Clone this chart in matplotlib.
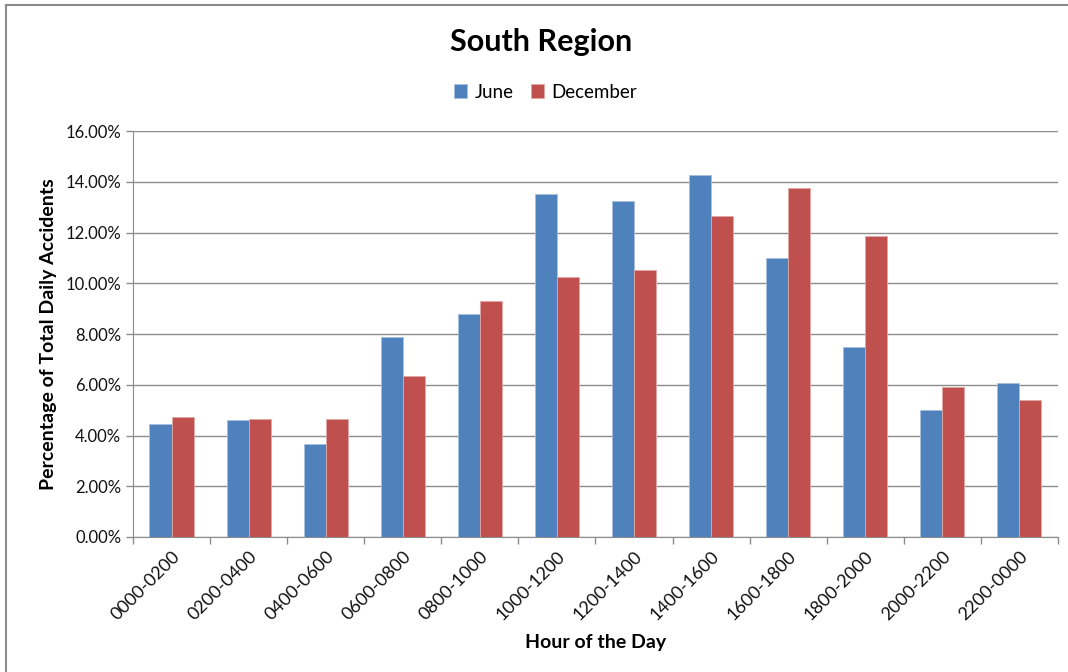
import numpy as np
import matplotlib.pyplot as plt
from matplotlib.lines import Line2D
from matplotlib.ticker import FuncFormatter

plt.rcParams['font.family'] = ['Lato', 'DejaVu Sans']

hours = ['0000-0200', '0200-0400', '0400-0600', '0600-0800', '0800-1000', '1000-1200',
         '1200-1400', '1400-1600', '1600-1800', '1800-2000', '2000-2200', '2200-0000']
june = [4.45, 4.61, 3.66, 7.88, 8.79, 13.52, 13.24, 14.27, 11.00, 7.49, 5.00, 6.07]
december = [4.73, 4.65, 4.65, 6.34, 9.30, 10.25, 10.52, 12.65, 13.75, 11.86, 5.91, 5.40]

fig = plt.figure(figsize=(10.68, 6.72), dpi=100)
ax = fig.add_axes([0.1245, 0.2009, 0.8661, 0.6041])

x = np.arange(len(hours))
w = 0.2857
ax.bar(x - w / 2, june, w, color='#4F81BD', edgecolor='#A7C0DE', linewidth=0.6, label='June', zorder=3)
ax.bar(x + w / 2, december, w, color='#C0504D', edgecolor='#E0A8A6', linewidth=0.6, label='December', zorder=3)

ax.set_xlim(-0.5, len(hours) - 0.5)
ax.set_ylim(0, 16)
ax.set_yticks(np.arange(0, 17, 2))
ax.yaxis.set_major_formatter(FuncFormatter(lambda v, p: f'{v:.2f}%'))
ax.grid(axis='y', color='#8C8C8C', linewidth=1.0, zorder=0)

# category boundaries as ticks, like Excel
ax.set_xticks(np.arange(-0.5, len(hours), 1.0))
ax.set_xticklabels([])
ax.set_xticks(x, minor=True)
ax.set_xticklabels(hours, minor=True, rotation=45, ha='right', rotation_mode='anchor',
                   fontsize=13, color='#111111')
ax.tick_params(axis='x', which='minor', length=0, pad=8)
ax.tick_params(axis='x', which='major', length=5, color='#8C8C8C', width=1)
ax.tick_params(axis='y', length=5, color='#8C8C8C', width=1, labelsize=12, labelcolor='#111111')

for s in ['top', 'right']:
    ax.spines[s].set_visible(False)
ax.spines['left'].set_color('#8C8C8C')
ax.spines['bottom'].set_color('#8C8C8C')

ax.set_ylabel('Percentage of Total Daily Accidents', fontsize=14, fontweight='bold', labelpad=6)
ax.set_xlabel('Hour of the Day', fontsize=14, fontweight='bold', labelpad=8)

fig.text(0.507, 0.937, 'South Region', ha='center', va='center', fontsize=22, fontweight='bold')
ax.legend(loc='center', bbox_to_anchor=(0.511, 0.863), bbox_transform=fig.transFigure,
          ncol=2, frameon=False, fontsize=13.5, handlelength=0.7, handleheight=0.7,
          handletextpad=0.4, columnspacing=0.9)

# outer chart-area border (top and left visible)
fig.add_artist(Line2D([0.0056, 1.0], [0.9925, 0.9925], color='#8C8C8C', lw=1.5, transform=fig.transFigure))
fig.add_artist(Line2D([0.0056, 0.0056], [0.0, 0.9925], color='#8C8C8C', lw=1.5, transform=fig.transFigure))

fig.savefig('out.png', dpi=100)
